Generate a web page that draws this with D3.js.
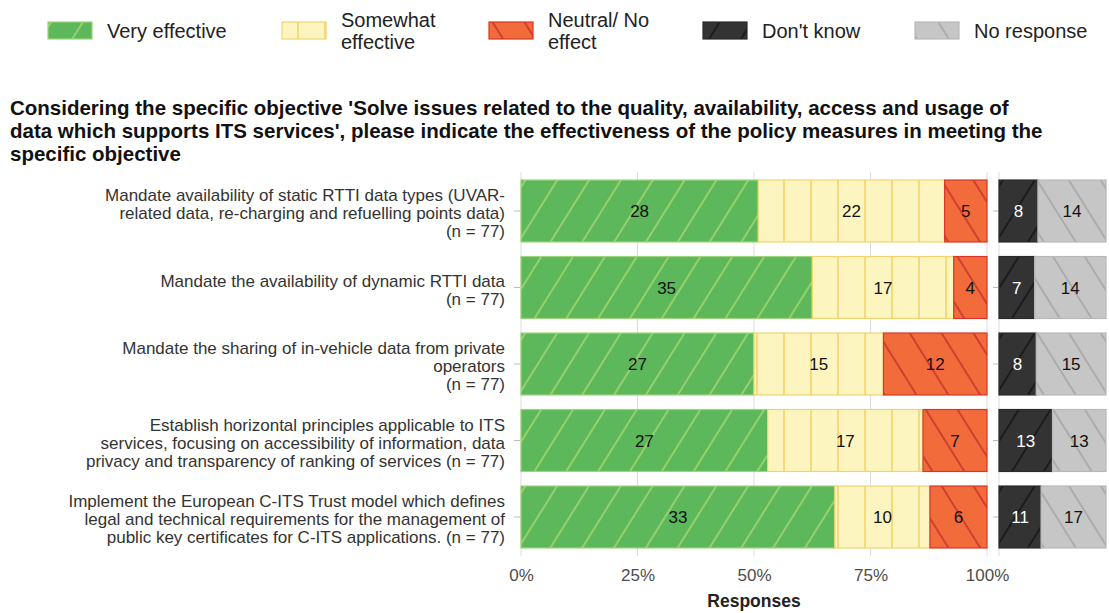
<!DOCTYPE html>
<html>
<head>
<meta charset="utf-8">
<script src="https://cdn.jsdelivr.net/npm/d3@7"></script>
<style>
  body { margin: 0; background: #fff; }
  svg { font-family: "Liberation Sans", Arial, sans-serif; }
</style>
</head>
<body>
<svg id="chart" width="1109" height="613"></svg>
<script>
let svg = d3.select("#chart");

// -------------------- DATA -------------------- //
let questions = [
    ["Mandate availability of static RTTI data types (UVAR-", "related data, re-charging and refuelling points data)", "(n = 77)"],
    ["Mandate the availability of dynamic RTTI data", "(n = 77)"],
    ["Mandate the sharing of in-vehicle data from private", "operators", "(n = 77)"],
    ["Establish horizontal principles applicable to ITS", "services, focusing on accessibility of information, data", "privacy and transparency of ranking of services (n = 77)"],
    ["Implement the European C-ITS Trust model which defines", "legal and technical requirements for the management of", "public key certificates for C-ITS applications. (n = 77)"]
];
let veryEffective     = [28, 35, 27, 27, 33];
let somewhatEffective = [22, 17, 15, 17, 10];
let neutralNoEffect   = [5, 4, 12, 7, 6];
let dontKnow          = [8, 7, 8, 13, 11];
let noResponse        = [14, 14, 15, 13, 17];

let categories = ["Very effective", "Somewhat effective", "Neutral/ No effect", "Don't know", "No response"];
let legendLines = [["Very effective"], ["Somewhat", "effective"], ["Neutral/ No", "effect"], ["Don't know"], ["No response"]];
let xTicks = [0, 0.25, 0.5, 0.75, 1];

let titleLines = [
    "Considering the specific objective 'Solve issues related to the quality, availability, access and usage of",
    "data which supports ITS services', please indicate the effectiveness of the policy measures in meeting the",
    "specific objective"
];

// Colors + hatch styles per category
let styles = [
    { id: "pVery",     fill: "#5cb85a", line: "#a4d672", stroke: "#9fd27a", angle: 32 },
    { id: "pSomewhat", fill: "#fdf5bf", line: "#f3d36a", stroke: "#f2d46e", angle: 0 },
    { id: "pNeutral",  fill: "#f26b3b", line: "#c9342b", stroke: "#d8352a", angle: -32 },
    { id: "pDontKnow", fill: "#333333", line: "#151515", stroke: "#2a2a2a", angle: 32 },
    { id: "pNoResp",   fill: "#c6c6c6", line: "#a6a6a6", stroke: "#b8b8b8", angle: -32 }
];

// -------------------- PATTERNS -------------------- //
let defs = svg.append("defs");
styles.forEach(s => {
    let p = defs.append("pattern")
        .attr("id", s.id)
        .attr("patternUnits", "userSpaceOnUse")
        .attr("width", 27)
        .attr("height", 27)
        .attr("patternTransform", `rotate(${s.angle})`);
    p.append("rect").attr("width", 27).attr("height", 27).attr("fill", s.fill);
    p.append("line")
        .attr("x1", 1).attr("x2", 1).attr("y1", 0).attr("y2", 27)
        .attr("stroke", s.line).attr("stroke-width", 1.6);
});

// -------------------- SCALES -------------------- //
let xMain = d3.scaleLinear().domain([0, 1]).range([521, 987]);
let xSide = d3.scaleLinear().domain([0, 1]).range([999, 1106]);
let y = d3.scaleBand()
    .domain(d3.range(questions.length))
    .range([172.75, 555.25])
    .paddingInner(0.19)
    .paddingOuter(0.095);

// build stacked rows
let mainRows = questions.map((q, i) => {
    let vals = [veryEffective[i], somewhatEffective[i], neutralNoEffect[i]];
    let tot = d3.sum(vals);
    let acc = 0;
    return vals.map((v, k) => {
        let seg = { row: i, cat: k, value: v, x0: acc / tot, x1: (acc + v) / tot };
        acc += v;
        return seg;
    });
}).flat();

let sideRows = questions.map((q, i) => {
    let vals = [dontKnow[i], noResponse[i]];
    let tot = d3.sum(vals);
    let acc = 0;
    return vals.map((v, k) => {
        let seg = { row: i, cat: k + 3, value: v, x0: acc / tot, x1: (acc + v) / tot };
        acc += v;
        return seg;
    });
}).flat();

// -------------------- GRID -------------------- //
let panelTop = 172, panelBottom = 556;
svg.append("g").selectAll("line")
    .data(xTicks)
    .enter().append("line")
    .attr("x1", d => xMain(d)).attr("x2", d => xMain(d))
    .attr("y1", panelTop).attr("y2", panelBottom)
    .attr("stroke", "#dcdcdc").attr("stroke-width", 1);

svg.append("line")
    .attr("x1", xSide(0)).attr("x2", xSide(0))
    .attr("y1", panelTop).attr("y2", panelBottom)
    .attr("stroke", "#dcdcdc").attr("stroke-width", 1);

// y ticks (labels drawn separately)
[[514, 520], [993, 998]].forEach(t => {
    svg.append("g").selectAll("line")
        .data(questions)
        .enter().append("line")
        .attr("x1", t[0]).attr("x2", t[1])
        .attr("y1", (d, i) => y(i) + y.bandwidth() / 2)
        .attr("y2", (d, i) => y(i) + y.bandwidth() / 2)
        .attr("stroke", "#bbbbbb");
});

// -------------------- BARS -------------------- //
function drawSegments(data, xs) {
    let g = svg.append("g");
    g.selectAll("rect")
        .data(data)
        .enter().append("rect")
        .attr("x", d => xs(d.x0))
        .attr("y", d => y(d.row))
        .attr("width", d => xs(d.x1) - xs(d.x0))
        .attr("height", y.bandwidth())
        .attr("fill", d => `url(#${styles[d.cat].id})`)
        .attr("stroke", d => styles[d.cat].stroke)
        .attr("stroke-width", 1.2);
    g.selectAll("text")
        .data(data)
        .enter().append("text")
        .attr("x", d => xs((d.x0 + d.x1) / 2))
        .attr("y", d => y(d.row) + y.bandwidth() / 2)
        .attr("dy", "0.36em")
        .attr("text-anchor", "middle")
        .attr("font-size", 17)
        .attr("fill", d => d.cat === 3 ? "#ffffff" : "#111111")
        .text(d => d.value);
}
drawSegments(mainRows, xMain);
drawSegments(sideRows, xSide);

// -------------------- ROW LABELS -------------------- //
let lineH = 18;
let labels = svg.append("g");
questions.forEach((lines, i) => {
    let cy = y(i) + y.bandwidth() / 2 + 2;
    let t = labels.append("text")
        .attr("text-anchor", "end")
        .attr("font-size", 17)
        .attr("fill", "#333333");
    lines.forEach((l, k) => {
        t.append("tspan")
            .attr("x", 505)
            .attr("y", cy + (k - (lines.length - 1) / 2) * lineH)
            .attr("dy", "0.36em")
            .text(l);
    });
});

// -------------------- X AXIS -------------------- //
let xAxis = svg.append("g")
    .attr("transform", `translate(0, 566)`)
    .call(d3.axisBottom(xMain).tickValues(xTicks).tickFormat(d3.format(".0%")).tickSize(0));
xAxis.select(".domain").remove();
xAxis.selectAll("text")
    .attr("font-size", 17)
    .attr("font-family", "'Liberation Sans', Arial, sans-serif")
    .attr("fill", "#4d4d4d");

svg.append("text")
    .attr("x", xMain(0.5))
    .attr("y", 601)
    .attr("dy", "0.36em")
    .attr("text-anchor", "middle")
    .attr("font-size", 17.5)
    .attr("font-weight", "bold")
    .attr("fill", "#222")
    .text("Responses");

// -------------------- TITLE -------------------- //
svg.append("g").selectAll("text")
    .data(titleLines)
    .enter().append("text")
    .attr("x", 10)
    .attr("y", (d, i) => 108 + i * 23)
    .attr("dy", "0.36em")
    .attr("font-size", 20.5)
    .attr("font-weight", "bold")
    .attr("fill", "#111")
    .text(d => d);

// -------------------- LEGEND -------------------- //
let legendX = [48, 282, 489, 703, 915];
let legend = svg.append("g");
categories.forEach((c, i) => {
    legend.append("rect")
        .attr("x", legendX[i]).attr("y", 22)
        .attr("width", 44).attr("height", 17)
        .attr("fill", `url(#${styles[i].id})`)
        .attr("stroke", styles[i].stroke)
        .attr("stroke-width", 1.2);
    let t = legend.append("text")
        .attr("font-size", 20)
        .attr("fill", "#222");
    let lines = legendLines[i];
    lines.forEach((l, k) => {
        t.append("tspan")
            .attr("x", legendX[i] + 59)
            .attr("y", 30.5 + (k - (lines.length - 1) / 2) * 22)
            .attr("dy", "0.36em")
            .text(l);
    });
});
</script>
</body>
</html>
